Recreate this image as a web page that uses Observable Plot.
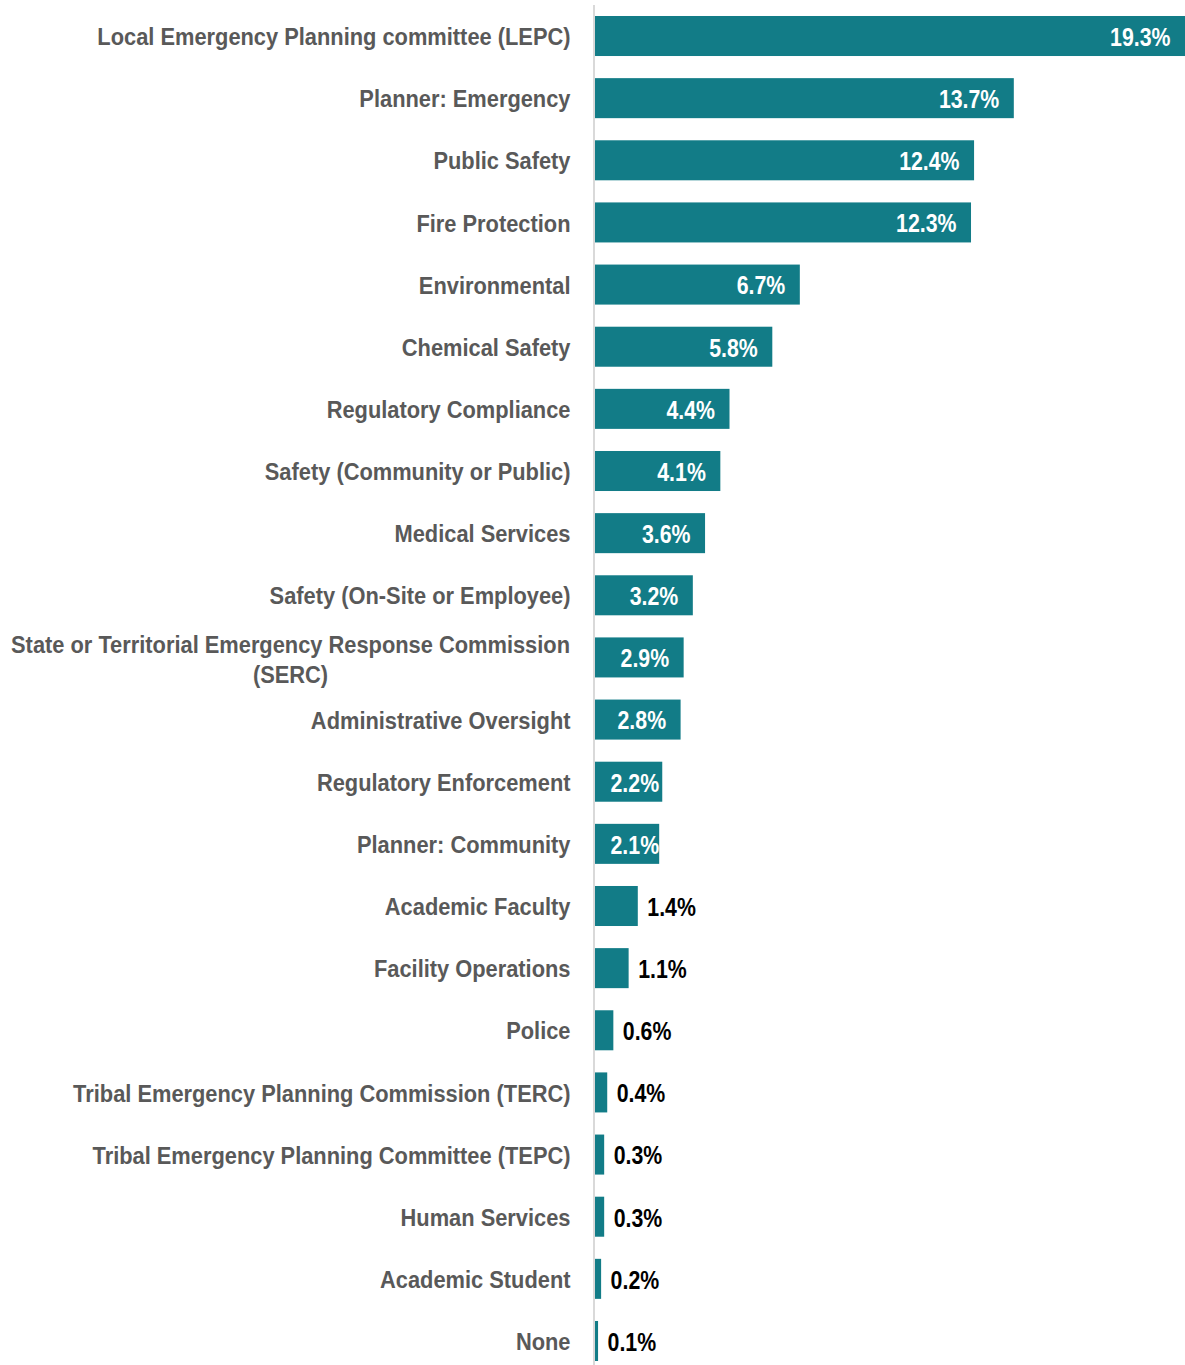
<!DOCTYPE html>
<html>
<head>
<meta charset="utf-8">
<script src="https://cdn.jsdelivr.net/npm/d3@7"></script>
<script src="https://cdn.jsdelivr.net/npm/@observablehq/plot@0.6"></script>
<style>
  html, body { margin: 0; padding: 0; background: #fff; }
  #chart svg { display: block; }
</style>
</head>
<body>
<div id="chart"></div>
<script>
const categories = [
  "Local Emergency Planning committee (LEPC)",
  "Planner: Emergency",
  "Public Safety",
  "Fire Protection",
  "Environmental",
  "Chemical Safety",
  "Regulatory Compliance",
  "Safety (Community or Public)",
  "Medical Services",
  "Safety (On-Site or Employee)",
  "State or Territorial Emergency Response Commission\n(SERC)",
  "Administrative Oversight",
  "Regulatory Enforcement",
  "Planner: Community",
  "Academic Faculty",
  "Facility Operations",
  "Police",
  "Tribal Emergency Planning Commission (TERC)",
  "Tribal Emergency Planning Committee (TEPC)",
  "Human Services",
  "Academic Student",
  "None"
];
const values = [19.3, 13.7, 12.4, 12.3, 6.7, 5.8, 4.4, 4.1, 3.6, 3.2, 2.9, 2.8, 2.2, 2.1, 1.4, 1.1, 0.6, 0.4, 0.3, 0.3, 0.2, 0.1];

const data = categories.map((c, i) => ({category: c, value: values[i]}));
const fmt = v => v.toFixed(1) + "%";
const font = "'Liberation Sans', Arial, sans-serif";

const insideEnd = data.filter(d => d.value >= 2.5);
const insideStart = data.filter(d => d.value >= 2 && d.value < 2.5);
const outside = data.filter(d => d.value < 2);

const chart = Plot.plot({
  width: 1185,
  height: 1365,
  marginLeft: 595,
  marginRight: 0,
  marginTop: 16,
  marginBottom: 4,
  style: {fontFamily: font, background: "#fff"},
  x: {domain: [0, 19.3], axis: null},
  y: {domain: categories, axis: null, paddingInner: 0.356, paddingOuter: 0, round: false},
  marks: [
    Plot.ruleX([0], {stroke: "#d9d9d9", strokeWidth: 2, dx: -1.5, insetTop: -11, insetBottom: -4}),
    Plot.barX(data, {y: "category", x: "value", fill: "#127c87"}),
    Plot.text(data.filter(d => !d.category.includes("\n")), {
      y: "category", text: "category", frameAnchor: "left", textAnchor: "end",
      dx: -25, dy: 1, fill: "#595959", fontSize: 24, fontWeight: "bold", className: "catlabel"
    }),
    Plot.text(data.filter(d => d.category.includes("\n")), {
      y: "category", text: "category", frameAnchor: "left", textAnchor: "middle",
      dx: -305, fill: "#595959", fontSize: 24, fontWeight: "bold", lineHeight: 1.25, className: "catlabel"
    }),
    Plot.text(insideEnd, {
      y: "category", x: "value", text: d => fmt(d.value), textAnchor: "end",
      dx: -15, dy: 1, fill: "#ffffff", fontSize: 26, fontWeight: "bold", className: "vallabel"
    }),
    Plot.text(insideStart, {
      y: "category", x: () => 0, text: d => fmt(d.value), textAnchor: "start",
      dx: 15, dy: 1, fill: "#ffffff", fontSize: 26, fontWeight: "bold", className: "vallabel"
    }),
    Plot.text(outside, {
      y: "category", x: "value", text: d => fmt(d.value), textAnchor: "start",
      dx: 9, dy: 1, fill: "#000000", fontSize: 26, fontWeight: "bold", className: "vallabel"
    })
  ]
});
// Narrow (condensed) look obtained by horizontal scaling of the text
chart.querySelectorAll(".catlabel text").forEach(t => {
  t.setAttribute("transform", (t.getAttribute("transform") || "") + " scale(0.91,1)");
});
chart.querySelectorAll(".vallabel text").forEach(t => {
  t.setAttribute("transform", (t.getAttribute("transform") || "") + " scale(0.82,1)");
});
document.getElementById("chart").appendChild(chart);
</script>
</body>
</html>
